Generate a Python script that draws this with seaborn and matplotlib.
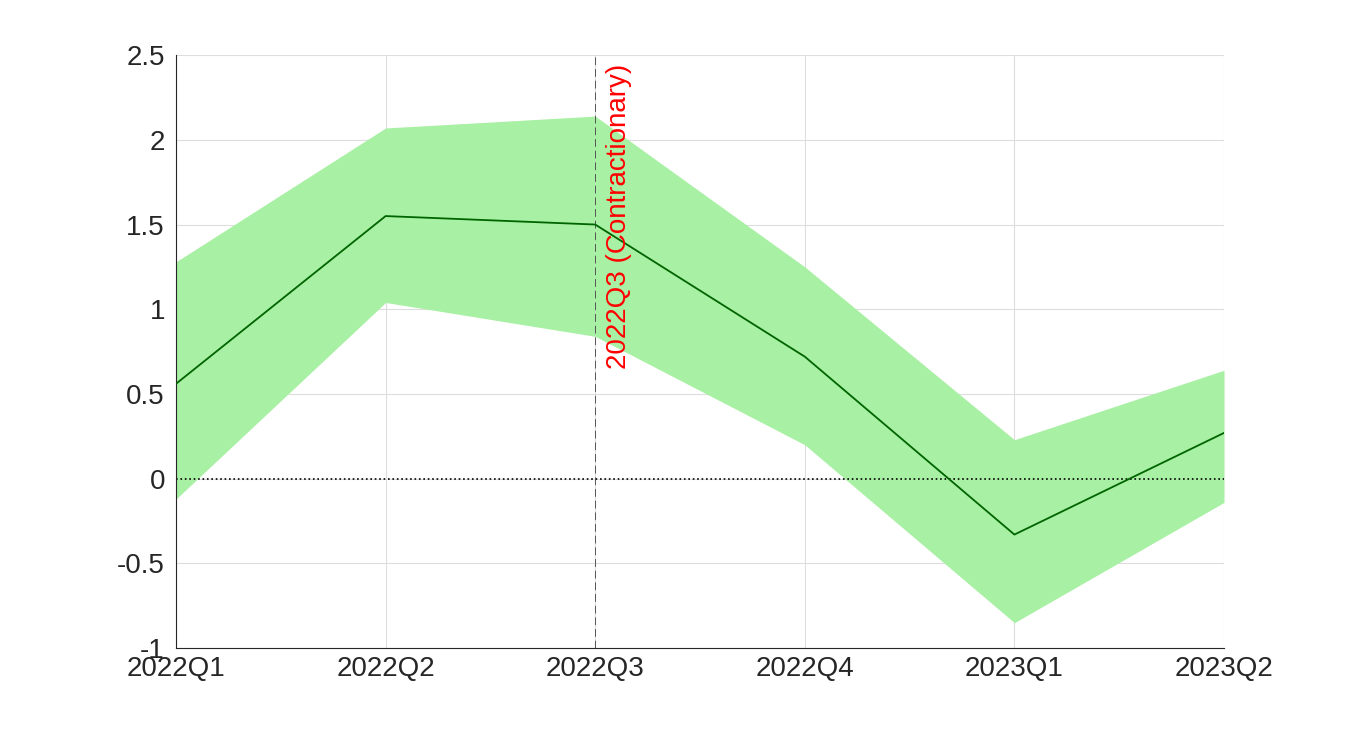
import numpy as np
import pandas as pd
import seaborn as sns
import matplotlib.pyplot as plt

quarters = ["2022Q1", "2022Q2", "2022Q3", "2022Q4", "2023Q1", "2023Q2"]
median = [0.56, 1.55, 1.50, 0.72, -0.33, 0.27]
upper = [1.28, 2.07, 2.14, 1.25, 0.23, 0.64]
lower = [-0.12, 1.04, 0.84, 0.20, -0.85, -0.14]
event_idx = 2
event_label = "2022Q3 (Contractionary)"

df = pd.DataFrame({"x": np.arange(len(quarters)), "median": median})

sns.set_style("white")
plt.rcParams['font.family'] = ['Liberation Sans', 'DejaVu Sans']

fig = plt.figure(figsize=(13.54, 7.29), dpi=100)
ax = fig.add_axes([0.13, 0.111, 0.774, 0.8134])

ax.fill_between(df["x"], lower, upper, color="#a8f0a3", linewidth=0, zorder=1)
sns.lineplot(data=df, x="x", y="median", color="#006400", linewidth=1.3, ax=ax, zorder=3)
ax.axhline(0, color="black", linestyle=":", linewidth=1.2, zorder=2)
ax.axvline(event_idx, color="#555555", linestyle=(0, (8, 4)), linewidth=0.7, zorder=2)
ax.text(event_idx + 0.05, 2.45, event_label, rotation=90, color="red",
        fontsize=20, ha="left", va="top")

ax.set_xlim(0, len(quarters) - 1)
ax.set_ylim(-1, 2.5)
ax.set_xticks(df["x"])
ax.set_xticklabels(quarters)
ax.set_yticks(np.arange(-1, 2.51, 0.5))
ax.set_yticklabels(["-1", "-0.5", "0", "0.5", "1", "1.5", "2", "2.5"])
ax.grid(True, color="#dddddd", linewidth=0.8)
ax.set_axisbelow(True)
ax.tick_params(direction="in", labelsize=20, length=5, colors="#262626")
ax.tick_params(axis="x", pad=6)
ax.tick_params(axis="y", pad=8)
ax.set_xlabel("")
ax.set_ylabel("")
for s in ["top", "right"]:
    ax.spines[s].set_visible(False)
for s in ["left", "bottom"]:
    ax.spines[s].set_color("#262626")
    ax.spines[s].set_linewidth(0.8)

fig.savefig("out.png", dpi=100)
